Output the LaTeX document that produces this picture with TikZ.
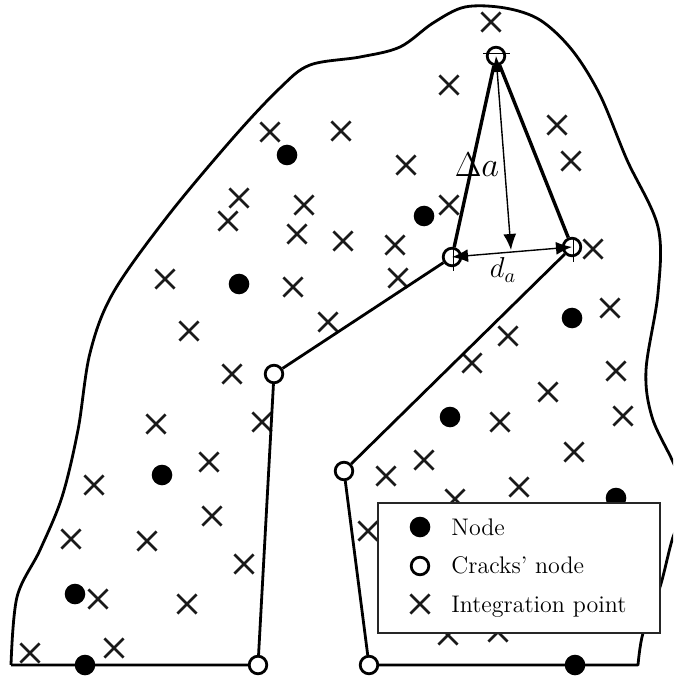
\documentclass[tikz,border=0pt]{standalone}
\usepackage{tikz}
\usetikzlibrary{arrows.meta,shapes.misc}
\tikzset{
  ipoint/.style={cross out, draw=black!90, line width=1.3pt, minimum size=9.6pt, inner sep=0pt, outer sep=0pt},
  fnode/.style={circle, fill=black, minimum size=10.3pt, inner sep=0pt},
  cnode/.style={circle, draw=black, fill=white, line width=1.4pt, minimum size=8.8pt, inner sep=0pt},
  legtext/.style={anchor=base west, font=\fontsize{12}{14}\selectfont, inner sep=0pt},
  crackline/.style={line width=1.4pt},
  dimarrow/.style={{Latex[length=8pt,width=6.5pt]}-{Latex[length=8pt,width=6.5pt]}, line width=0.7pt}
}
\begin{document}
\begin{tikzpicture}[x=0.5pt,y=-0.5pt]
\clip (0,0) rectangle (673,678);
% Outer boundary
\draw[line width=1.4pt, line join=round] (258,665) -- (11,665)
  plot[smooth, tension=0.55] coordinates {(11,665) (17,597) (40,550) (62,497) (78,430) (90,353) (113,293) (167,217) (233,138) (280,88) (310,65) (360,57) (400,47) (433,23) (465,7) (505,8) (540,20) (572,50) (600,95) (627,160) (658,227) (658,293) (646,370) (652,417) (673,462) (688,500) (673,537) (660,587) (643,633) (638,665)}
  -- (369,665);

% Nodes
\node[fnode] (n1) at (287,155) {};
\node[fnode] (n2) at (424,216) {};
\node[fnode] (n3) at (239,284) {};
\node[fnode] (n4) at (572,318) {};
\node[fnode] (n5) at (450,417) {};
\node[fnode] (n6) at (162,475) {};
\node[fnode] (n7) at (616,498) {};
\node[fnode] (n8) at (75,594) {};
\node[fnode] (n9) at (85,665) {};
\node[fnode] (n10) at (575,665) {};

% Integration points
\node[ipoint] (x1) at (491,22) {};
\node[ipoint] (x2) at (449,85) {};
\node[ipoint] (x3) at (557,125) {};
\node[ipoint] (x4) at (571,161) {};
\node[ipoint] (x5) at (406,165) {};
\node[ipoint] (x6) at (341,131) {};
\node[ipoint] (x7) at (270,132) {};
\node[ipoint] (x8) at (239,198) {};
\node[ipoint] (x9) at (228,221) {};
\node[ipoint] (x10) at (304,205) {};
\node[ipoint] (x11) at (297,234) {};
\node[ipoint] (x12) at (343,241) {};
\node[ipoint] (x13) at (395,245) {};
\node[ipoint] (x14) at (449,205) {};
\node[ipoint] (x15) at (398,278) {};
\node[ipoint] (x16) at (165,279) {};
\node[ipoint] (x17) at (293,287) {};
\node[ipoint] (x18) at (189,331) {};
\node[ipoint] (x19) at (328,322) {};
\node[ipoint] (x20) at (593,249) {};
\node[ipoint] (x21) at (610,308) {};
\node[ipoint] (x22) at (508,336) {};
\node[ipoint] (x23) at (472,363) {};
\node[ipoint] (x24) at (616,371) {};
\node[ipoint] (x25) at (548,392) {};
\node[ipoint] (x26) at (623,416) {};
\node[ipoint] (x27) at (500,422) {};
\node[ipoint] (x28) at (232,374) {};
\node[ipoint] (x29) at (156,424) {};
\node[ipoint] (x30) at (262,422) {};
\node[ipoint] (x31) at (574,452) {};
\node[ipoint] (x32) at (209,462) {};
\node[ipoint] (x33) at (424,460) {};
\node[ipoint] (x34) at (386,476) {};
\node[ipoint] (x35) at (519,487) {};
\node[ipoint] (x36) at (455,499) {};
\node[ipoint] (x37) at (94,485) {};
\node[ipoint] (x38) at (212,516) {};
\node[ipoint] (x39) at (71,539) {};
\node[ipoint] (x40) at (147,541) {};
\node[ipoint] (x41) at (368,531) {};
\node[ipoint] (x42) at (244,564) {};
\node[ipoint] (x43) at (98,599) {};
\node[ipoint] (x44) at (187,604) {};
\node[ipoint] (x45) at (114,648) {};
\node[ipoint] (x46) at (30,653) {};
\node[ipoint] (x47) at (448,635) {};
\node[ipoint] (x48) at (498,632) {};

% Crack nodes
\node[cnode] (c1) at (258,665) {};
\node[cnode] (c2) at (274,374) {};
\node[cnode] (c3) at (452,257) {};
\node[cnode] (c4) at (496,56) {};
\node[cnode] (c5) at (572,247) {};
\node[cnode] (c6) at (344,471) {};
\node[cnode] (c7) at (369,665) {};

% Crack
\draw[crackline] (c1) -- (c2);
\draw[crackline] (c2) -- (c3);
\draw[crackline, line width=1.7pt] (c3) -- (c4);
\draw[crackline, line width=1.7pt] (c4) -- (c5);
\draw[crackline] (c5) -- (c6);
\draw[crackline] (c6) -- (c7);

% Dimensions
\draw[line width=0.5pt] (483,54) -- (510,54);
\draw[line width=0.5pt] (453,247) -- (453,271);
\draw[line width=0.5pt] (573,237) -- (573,262);
\coordinate (dtip) at (511,250);
\draw[dimarrow] (c3.center) -- (c5.center);
\draw[dimarrow] (c4.center) -- (dtip);
\node[font=\fontsize{14.6}{16}\selectfont] (lda) at (503,270) {$d_a$};
\node[font=\fontsize{17}{19}\selectfont] (lab) at (477,165) {$\Delta a$};

% Legend
\node[draw=black!85, fill=white, line width=0.8pt, minimum width=141pt, minimum height=65pt, inner sep=0pt] (leg) at (519,568) {};
\node[fnode] (l1) at (420,527) {};
\node[cnode] (l2) at (420,566) {};
\node[ipoint] (l3) at (420,604) {};
\node[legtext] (t1) at (451,535) {Node};
\node[legtext] (t2) at (451,573) {Cracks' node};
\node[legtext] (t3) at (451,612) {Integration point};
\end{tikzpicture}
\end{document}
